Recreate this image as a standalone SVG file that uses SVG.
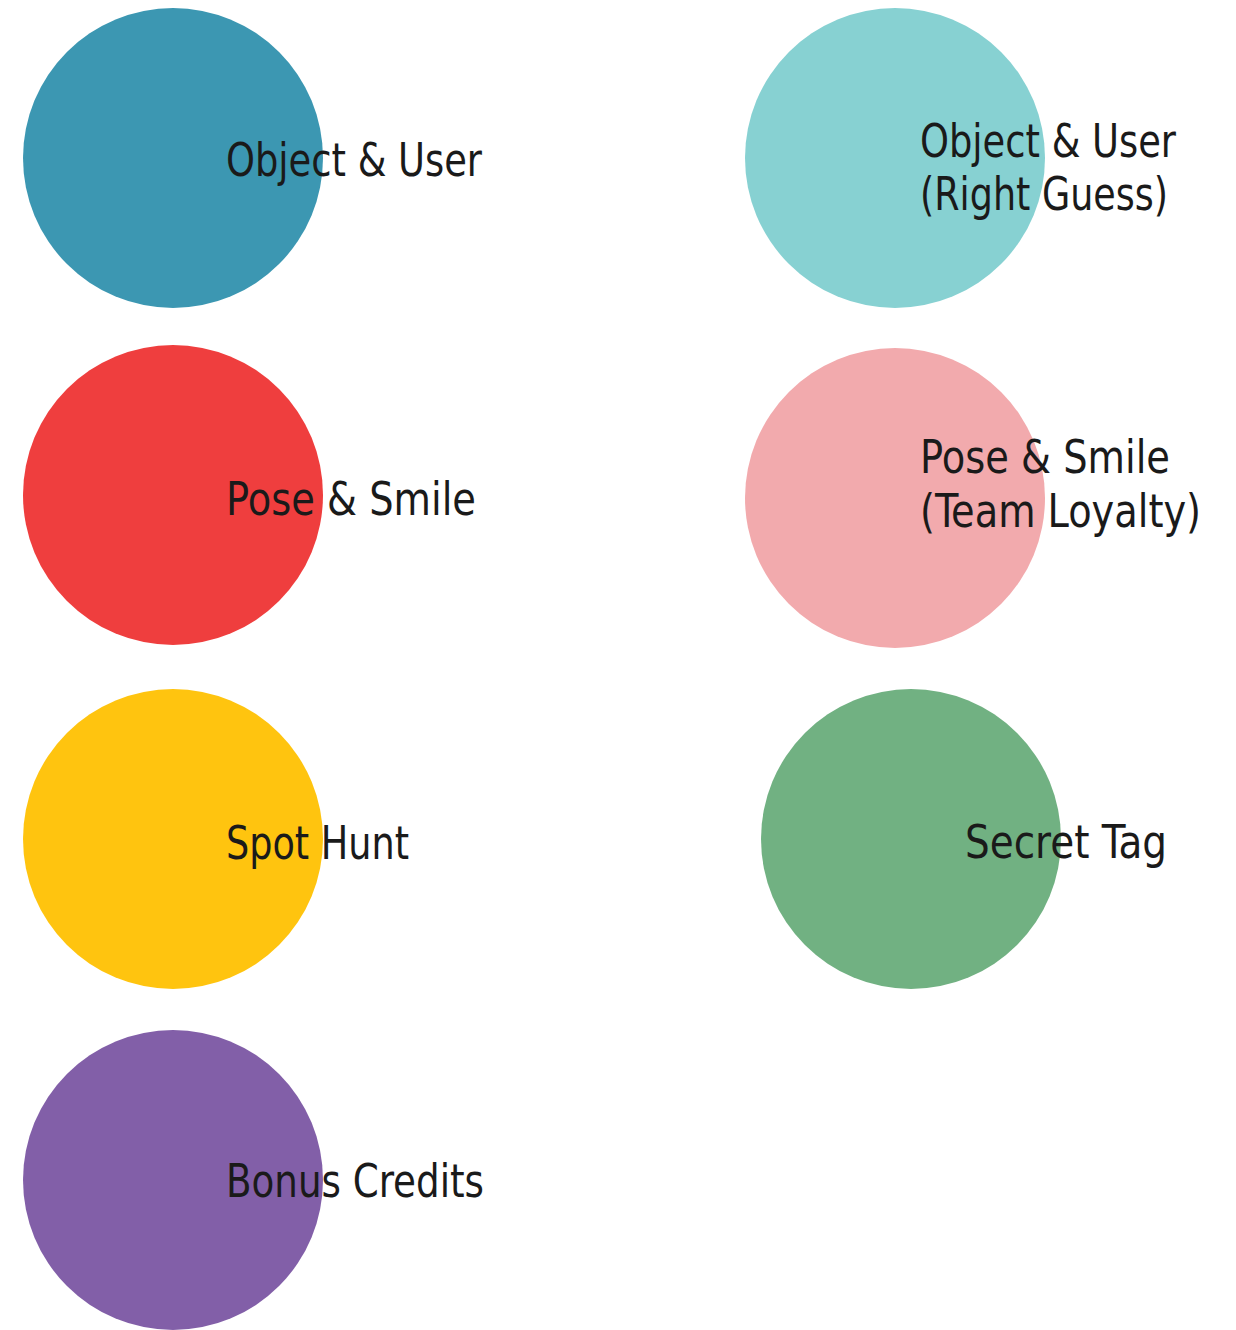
<svg xmlns="http://www.w3.org/2000/svg" width="1236" height="1330" viewBox="0 0 1236 1330">
<style>
text{font-family:"DejaVu Sans Condensed","DejaVu Sans","Liberation Sans",sans-serif;font-size:47px;fill:#1a1a1a;}
</style>
<rect width="1236" height="1330" fill="#ffffff"/>
<g id="node-object-user">
<circle cx="173" cy="158" r="150" fill="#3c97b2"/>
<text x="226" y="176" textLength="256" lengthAdjust="spacingAndGlyphs">Object &amp; User</text>
</g>
<g id="node-object-user-right-guess">
<circle cx="895" cy="158" r="150" fill="#87d1d2"/>
<text x="920" y="157" textLength="256" lengthAdjust="spacingAndGlyphs">Object &amp; User</text>
<text x="920" y="210" textLength="248" lengthAdjust="spacingAndGlyphs">(Right Guess)</text>
</g>
<g id="node-pose-smile">
<circle cx="173" cy="495" r="150" fill="#ef3e3e"/>
<text x="226" y="515" textLength="250" lengthAdjust="spacingAndGlyphs">Pose &amp; Smile</text>
</g>
<g id="node-pose-smile-team-loyalty">
<circle cx="895" cy="498" r="150" fill="#f2aaad"/>
<text x="920" y="473" textLength="250" lengthAdjust="spacingAndGlyphs">Pose &amp; Smile</text>
<text x="920" y="527" textLength="281" lengthAdjust="spacingAndGlyphs">(Team Loyalty)</text>
</g>
<g id="node-spot-hunt">
<circle cx="173" cy="839" r="150" fill="#ffc40f"/>
<text x="226" y="859" textLength="183" lengthAdjust="spacingAndGlyphs">Spot Hunt</text>
</g>
<g id="node-secret-tag">
<circle cx="911" cy="839" r="150" fill="#71b182"/>
<text x="965" y="858" textLength="202" lengthAdjust="spacingAndGlyphs">Secret Tag</text>
</g>
<g id="node-bonus-credits">
<circle cx="173" cy="1180" r="150" fill="#825fa8"/>
<text x="226" y="1197" textLength="258" lengthAdjust="spacingAndGlyphs">Bonus Credits</text>
</g>
<g id="connectors"/>
</svg>
